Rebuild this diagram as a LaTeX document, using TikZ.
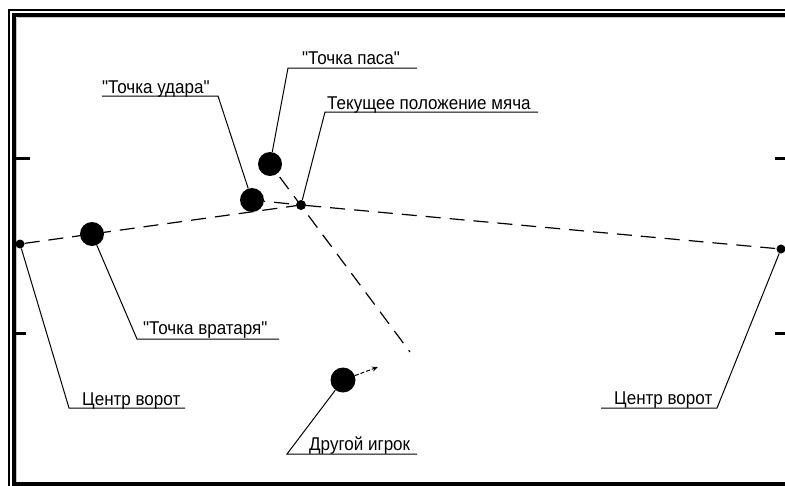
\documentclass[tikz,border=0pt]{standalone}
\usepackage{fontspec}
\setmainfont{Liberation Sans}
\newfontfamily\lbfont{Liberation Sans}
\usetikzlibrary{arrows.meta}

% label text: a slightly narrowed sans, taller than its width suggests
\newcommand{\lbtext}[1]{\scalebox{0.92}[1]{#1}}

\tikzset{
  bigdot/.style={circle, fill=black, inner sep=0pt, minimum size=24pt},
  smalldot/.style={circle, fill=black, inner sep=0pt, minimum size=9pt},
  lbl/.style={font=\lbfont\fontsize{18.5pt}{21pt}\selectfont, inner sep=0pt, anchor=base west},
  leader/.style={line width=1pt},
  track/.style={line width=1.2pt, dash pattern=on 15pt off 9pt},
  tickmark/.style={line width=3pt},
}

\begin{document}
\begin{tikzpicture}[x=1pt, y=-1pt]
  \useasboundingbox (0,0) rectangle (785,485);
  \clip (0,0) rectangle (785,485);
  \fill[white] (0,0) rectangle (785,485);

  % double frame of the field
  \draw[line width=2pt] (9,10) rectangle (800,500);
  \draw[line width=4pt] (14,15) rectangle (790,484);
  \draw[gray!45, line width=1pt] (16.5,17.5) -- (800,17.5);
  \draw[gray!45, line width=1pt] (16.5,17.5) -- (16.5,482);

  % goal post marks
  \draw[tickmark] (16,158) -- (30,158);
  \draw[tickmark] (16,333) -- (26,333);
  \draw[tickmark] (775,158) -- (788,158);
  \draw[tickmark] (775,333) -- (788,333);

  % points
  \node[smalldot] (gL) at (20,244) {};
  \node[smalldot] (gR) at (781,249) {};
  \node[smalldot, minimum size=10pt] (ball) at (301,205) {};
  \node[bigdot] (keeper) at (92,234) {};
  \node[bigdot] (strike) at (252,200) {};
  \node[bigdot] (pass) at (270,164) {};
  \node[bigdot, minimum size=25pt] (other) at (343,380) {};

  % trajectories
  \coordinate (passEnd) at (410,352);
  \coordinate (moveEnd) at (378,367);
  \draw[track] (gL) -- (ball);
  \draw[track] (ball) -- (gR);
  \draw[track, dash phase=20pt] (pass) -- (passEnd);
  \draw[track, dash phase=14pt] (strike) -- (ball);
  \draw[line width=1pt, dash pattern=on 4pt off 2pt, -{Stealth[length=6pt, width=5pt]}] (other) -- (moveEnd);

  % labels
  \node[lbl] (tPass) at (302,64) {\lbtext{"Точка паса"}};
  \node[lbl] (tStrike) at (102,93) {\lbtext{"Точка удара"}};
  \node[lbl] (tBall) at (327,109) {\lbtext{Текущее положение мяча}};
  \node[lbl] (tKeeper) at (143,334) {\lbtext{"Точка вратаря"}};
  \node[lbl] (tGoalL) at (82,405) {\lbtext{Центр ворот}};
  \node[lbl] (tOther) at (309,450) {\lbtext{Другой игрок}};
  \node[lbl] (tGoalR) at (614,404) {\lbtext{Центр ворот}};

  % leaders with underlines
  \coordinate (pE) at (288,68);   \coordinate (pU) at (417,68);
  \coordinate (sE) at (218,96);   \coordinate (sU) at (102,96);
  \coordinate (bE) at (325,112);  \coordinate (bU) at (538,112);
  \coordinate (kE) at (137,339);  \coordinate (kU) at (279,339);
  \coordinate (lE) at (69,408);   \coordinate (lU) at (185,408);
  \coordinate (oE) at (287,454);  \coordinate (oU) at (417,454);
  \coordinate (rE) at (717,408);  \coordinate (rU) at (601,408);

  \draw[leader] (pass) -- (pE) -- (pU);
  \draw[leader] (strike) -- (sE) -- (sU);
  \draw[leader] (ball) -- (bE) -- (bU);
  \draw[leader] (keeper) -- (kE) -- (kU);
  \draw[leader] (gL) -- (lE) -- (lU);
  \draw[leader] (other) -- (oE) -- (oU);
  \draw[leader] (gR) -- (rE) -- (rU);
\end{tikzpicture}
\end{document}
